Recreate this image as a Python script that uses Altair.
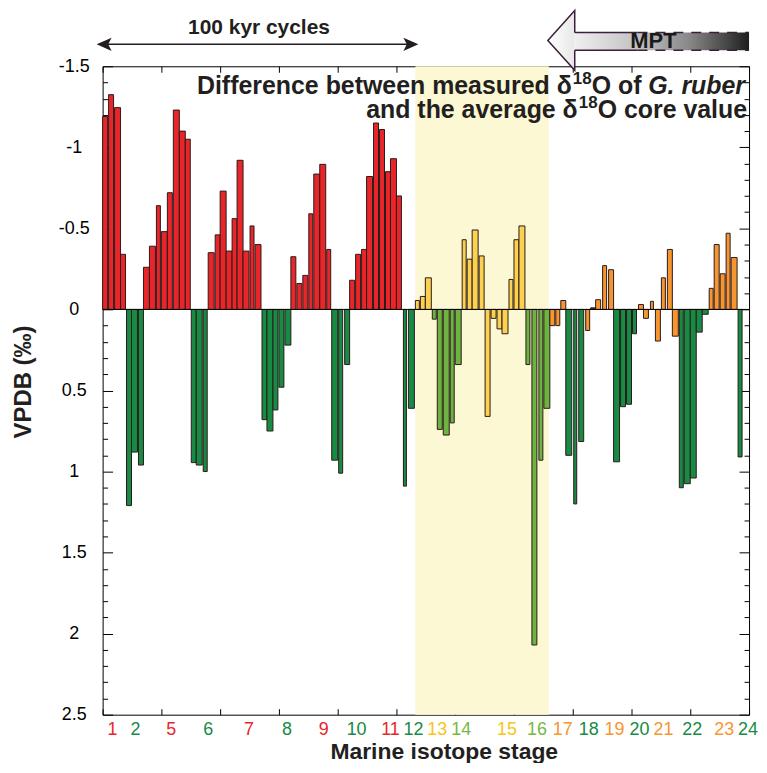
import altair as alt
import pandas as pd

W, H = 649, 651

# ---- bar data (position units along core, value = delta18O difference, permil) ----
bar_start = [0, 6, 12, 18,
             24, 29, 36,
             41, 47, 54, 59, 65, 71, 77, 83,
             89, 94, 101,
             106, 113, 118, 124, 130, 135, 141, 148, 153,
             160, 165, 171, 177, 183,
             189, 195, 201, 207, 212, 218, 225,
             230, 237, 243,
             248, 254, 260, 265, 272, 278, 284, 289, 295,
             302, 307,
             314, 319, 324,
             331, 336, 342, 349, 354,
             361, 366, 371, 378,
             384, 390, 396, 401,
             408, 413, 418,
             425, 431, 438, 443,
             449, 455, 460,
             465, 473, 478,
             485, 490, 495, 502, 508,
             513, 520, 526, 532,
             538, 543, 550, 555, 561, 567, 572,
             579, 584, 590, 596, 602,
             609, 614, 620, 626, 631,
             638]
bar_end = [5, 11, 18, 23,
           29, 35, 41,
           47, 53, 58, 65, 70, 77, 83, 88,
           94, 100, 105,
           112, 118, 124, 130, 135, 141, 147, 152, 159,
           165, 171, 176, 182, 189,
           194, 200, 206, 211, 218, 224, 229,
           236, 241, 248,
           253, 259, 265, 271, 277, 283, 289, 295, 300,
           305, 313,
           318, 324, 330,
           335, 341, 348, 353, 360,
           365, 371, 377, 383,
           389, 395, 401, 407,
           412, 418, 424,
           429, 436, 442, 449,
           454, 459, 465,
           471, 476, 483,
           489, 495, 500, 506, 513,
           519, 525, 531, 536,
           543, 548, 553, 560, 565, 572, 578,
           583, 590, 596, 602, 608,
           613, 619, 625, 630, 637,
           642]
bar_value = [-1.19, -1.325, -1.245, -0.34,
             1.21, 0.88, 0.96,
             -0.26, -0.39, -0.64, -0.48, -0.72, -1.23, -1.10, -1.05,
             0.945, 0.96, 1.0,
             -0.35, -0.46, -0.73, -0.36, -0.56, -0.92, -0.36, -0.515, -0.40,
             0.68, 0.75, 0.62, 0.48, 0.22,
             -0.325, -0.16, -0.21, -0.59, -0.835, -0.895, -0.37,
             0.93, 1.01, 0.34,
             -0.18, -0.34, -0.37, -0.82, -1.15, -1.11, -0.85, -0.93, -0.70,
             1.09, 0.61,
             -0.055, -0.08, -0.195,
             0.06, 0.74, 0.775, 0.70, 0.34,
             -0.43, -0.31, -0.49, -0.33,
             0.66, 0.055, 0.12, 0.15,
             -0.185, -0.43, -0.515,
             0.34, 2.07, 0.93, 0.61,
             0.10, 0.10, -0.055,
             0.90, 1.20, 0.815,
             0.13, -0.01, -0.06, -0.27, -0.245,
             0.94, 0.60, 0.585, 0.15,
             -0.03, 0.055, -0.05, 0.195, -0.195, -0.37, 0.165,
             1.10, 1.075, 1.04, 0.14, 0.03,
             -0.13, -0.40, -0.22, -0.47, -0.32,
             0.91]
bar_group = (["red"] * 4 + ["green"] * 3 + ["red"] * 8 + ["green"] * 3 + ["red"] * 9 +
             ["green"] * 5 + ["red"] * 7 + ["green"] * 3 + ["red"] * 9 + ["green"] * 2 +
             ["yellow"] * 3 + ["lightgreen"] * 5 + ["yellow"] * 4 + ["yellow"] * 4 +
             ["yellow"] * 3 + ["lightgreen"] * 4 + ["orange"] * 3 + ["green"] * 3 +
             ["orange", "maroon", "orange", "orange", "orange"] + ["green"] * 4 +
             ["orange"] * 7 + ["green"] * 5 + ["orange"] * 5 + ["green"])

# ---- marine isotope stage labels ----
stage_label = ["1", "2", "5", "6", "7", "8", "9", "10", "11", "12", "13", "14",
               "15", "16", "17", "18", "19", "20", "21", "22", "23", "24"]
stage_pos = [10, 33, 69, 106, 147, 185, 222, 255, 289, 312, 336, 360,
             406, 436, 462, 488, 514, 539, 563, 592, 624, 648]
stage_group = ["red", "green", "red", "green", "red", "green", "red", "green", "red",
               "green", "yellow", "lightgreen", "yellow", "lightgreen", "orange", "green",
               "orange", "green", "orange", "green", "orange", "green"]

band_start, band_end = [314], [448]

y_major = [-1.5, -1.0, -0.5, 0.0, 0.5, 1.0, 1.5, 2.0, 2.5]
y_minor = [round(-1.5 + 0.1 * i, 1) for i in range(41)]
x_ticks = [59 * i for i in range(12)]

groups = ["red", "green", "yellow", "lightgreen", "orange", "maroon"]
bar_colors = ["#E8262A", "#178A43", "#FDD150", "#6DB33F", "#F7952F", "#8B1E2A"]
label_colors = ["#E8262A", "#178A43", "#F6C518", "#76B843", "#F7952F", "#8B1E2A"]

FONT = "Liberation Sans"
INK = "#231F20"

bars_df = pd.DataFrame({"start": bar_start, "end": bar_end, "value": bar_value, "group": bar_group})
stage_df = pd.DataFrame({"label": stage_label, "pos": stage_pos, "group": stage_group})
band_df = pd.DataFrame({"s": band_start, "e": band_end})
one = pd.DataFrame({"k": [0]})
dummy = pd.DataFrame({"x": [0.0], "y": [0.0]})

xs = alt.Scale(domain=[0, W], nice=False, zero=False)
ys = alt.Scale(domain=[-1.5, 2.5], reverse=True, nice=False, zero=False)

tick_size = {"condition": {"test": "abs(datum.value*2 - round(datum.value*2)) < 0.001", "value": 10}, "value": 5}

band = alt.Chart(band_df).mark_rect(color="#FBF8D3").encode(
    x=alt.X("s:Q", scale=xs, axis=None), x2="e",
    y=alt.value(0), y2=alt.value(H))

bars = alt.Chart(bars_df).mark_rect(stroke="#2a1a1a", strokeWidth=1).encode(
    x=alt.X("start:Q", scale=xs,
            axis=alt.Axis(orient="top", offset=-H, values=x_ticks, labels=False, domain=False,
                          ticks=True, tickSize=6, tickColor="black", grid=False, title=None)),
    x2="end",
    y=alt.Y("value:Q", scale=ys,
            axis=alt.Axis(orient="left", values=y_major, ticks=False, tickSize=0, domain=False,
                          labelAlign="center", labelBaseline="middle", labelPadding=29,
                          labelFontSize=18, labelFont=FONT, labelColor="black",
                          labelExpr="toString(datum.value)", grid=False, title=None)),
    y2=alt.datum(0),
    color=alt.Color("group:N", scale=alt.Scale(domain=groups, range=bar_colors), legend=None))

ticks_a = alt.Chart(dummy).mark_point(opacity=0).encode(
    x=alt.X("x:Q", scale=xs,
            axis=alt.Axis(orient="bottom", offset=-H, values=x_ticks, labels=False, domain=False,
                          tickSize=6, tickColor="black", grid=False, title=None)),
    y=alt.Y("y:Q", scale=ys,
            axis=alt.Axis(orient="right", offset=-W, values=y_minor, labels=False, domain=False,
                          tickSize=tick_size, tickColor="black", grid=False, title=None)))

ticks_b = alt.Chart(dummy).mark_point(opacity=0).encode(
    x=alt.X("x:Q", scale=xs, axis=None),
    y=alt.Y("y:Q", scale=ys,
            axis=alt.Axis(orient="left", offset=-W, values=y_minor, labels=False, domain=False,
                          tickSize=tick_size, tickColor="black", grid=False, title=None)))

zero = alt.Chart(one).mark_rule(color="black", strokeWidth=1).encode(
    y=alt.Y("k:Q", scale=ys, axis=None), x=alt.value(0), x2=alt.value(W))

stages = alt.Chart(stage_df).mark_text(fontSize=18, font=FONT, baseline="middle", align="center").encode(
    x=alt.X("pos:Q", scale=xs, axis=None), y=alt.value(H + 15), text="label:N",
    color=alt.Color("group:N", scale=alt.Scale(domain=groups, range=label_colors), legend=None))


def txt(s, x, y, size, weight="bold", style="normal", align="center", baseline="middle", angle=0, color=INK):
    return alt.Chart(pd.DataFrame({"t": [s]})).mark_text(
        font=FONT, fontSize=size, fontWeight=weight, fontStyle=style, align=align,
        baseline=baseline, angle=angle, color=color).encode(
        text="t:N", x=alt.value(x), y=alt.value(y))


x_title = txt("Marine isotope stage", 343, 688, 23)
y_title = txt("VPDB (‰)", -79, 317, 24, angle=270)

# annotation (two lines, right aligned)
ann = [
    txt("G. ruber", 645, 28, 25, style="italic", align="right", baseline="alphabetic"),
    txt("O of", 541, 28, 25, align="right", baseline="alphabetic"),
    txt("18", 491, 18, 17, align="right", baseline="alphabetic"),
    txt("Difference between measured δ", 471, 28, 25, align="right", baseline="alphabetic"),
    txt("O core value", 647, 52, 25, align="right", baseline="alphabetic"),
    txt("18", 497, 42, 17, align="right", baseline="alphabetic"),
    txt("and the average δ", 477, 52, 25, align="right", baseline="alphabetic"),
]

# 100 kyr cycles double arrow
cyc_title = txt("100 kyr cycles", 157, -38, 21)
cyc_line = alt.Chart(one).mark_rule(color=INK, strokeWidth=1.5).encode(
    x=alt.value(4), x2=alt.value(309), y=alt.value(-22))
cyc_left = alt.Chart(one).mark_point(shape="M -1 0 L 1 -0.9 L 0.55 0 L 1 0.9 Z", filled=True,
                                     size=225, color=INK, opacity=1).encode(
    x=alt.value(1.5), y=alt.value(-22))
cyc_right = alt.Chart(one).mark_point(shape="M 1 0 L -1 -0.9 L -0.55 0 L -1 0.9 Z", filled=True,
                                      size=225, color=INK, opacity=1).encode(
    x=alt.value(309.5), y=alt.value(-22))

# MPT arrow
PURPLE = "#3b1f3b"
head = alt.Chart(one).mark_point(
    shape="M 0.45 -1 L -0.45 0 L 0.45 1 Z", size=3600, filled=True, opacity=1,
    fill=alt.Gradient(gradient="linear", stops=[alt.GradientStop(color="#ffffff", offset=0),
                                                alt.GradientStop(color="#e8e8e8", offset=1)],
                      x1=0, x2=1, y1=0, y2=0),
    stroke=PURPLE, strokeWidth=1.5).encode(x=alt.value(460.5), y=alt.value(-26))
shaft = alt.Chart(one).mark_rect(
    fill=alt.Gradient(gradient="linear", stops=[alt.GradientStop(color="#f0f0f0", offset=0),
                                                alt.GradientStop(color="#bcbcbc", offset=0.4),
                                                alt.GradientStop(color="#8a8a8a", offset=0.65),
                                                alt.GradientStop(color="#444444", offset=0.88),
                                                alt.GradientStop(color="#1e1e1e", offset=1)],
                      x1=0, x2=1, y1=0, y2=0)).encode(
    x=alt.value(473), x2=alt.value(649), y=alt.value(-34), y2=alt.value(-16))
edges = []
for yy in (-34, -16):
    edges.append(alt.Chart(one).mark_rule(color=PURPLE, strokeWidth=1.5).encode(
        x=alt.value(474), x2=alt.value(537), y=alt.value(yy)))
    edges.append(alt.Chart(one).mark_rule(color=PURPLE, strokeWidth=1.5, strokeDash=[10, 8]).encode(
        x=alt.value(537), x2=alt.value(649), y=alt.value(yy)))
mpt = txt("MPT", 553, -25, 22, color="#1a1a1a")

chart = alt.layer(
    band, bars, zero, ticks_a, ticks_b, stages, x_title, y_title, *ann,
    cyc_title, cyc_line, cyc_left, cyc_right, head, shaft, *edges, mpt
).resolve_scale(x="independent", y="independent", color="independent").resolve_axis(
    x="independent", y="independent"
).properties(
    width=W, height=H,
    padding={"left": 95, "top": 57, "right": 10, "bottom": 47},
    autosize=alt.AutoSizeParams(type="none")
).configure_view(stroke="black", strokeWidth=1)

chart.save("out.html", embed_options={"renderer": "svg", "actions": False})
